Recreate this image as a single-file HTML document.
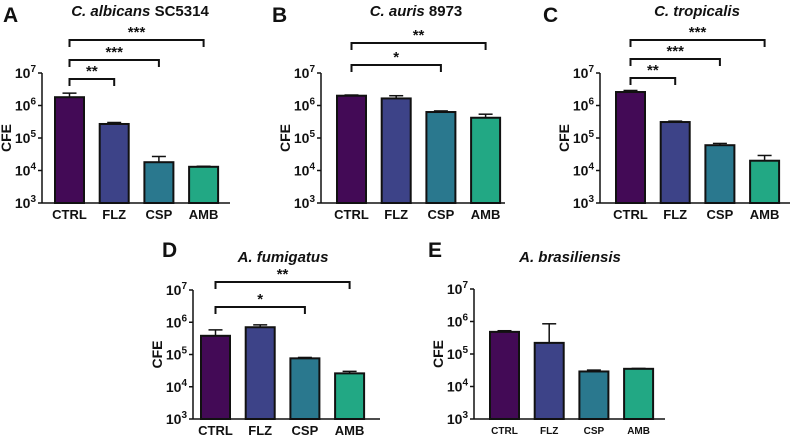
<!DOCTYPE html>
<html><head><meta charset="utf-8"><style>
body{margin:0;background:#fff}
svg text{font-family:"Liberation Sans",Arial,sans-serif;font-weight:bold;fill:#111}
</style></head><body>
<svg id="c" width="800" height="440" viewBox="0 0 800 440" xmlns="http://www.w3.org/2000/svg"></svg>
<script>
const categories=["CTRL","FLZ","CSP","AMB"];
const colors=["#430a56","#3d4388","#2a788e","#22a884"];
const tickExps=[3,4,5,6,7];
const valsA=[1.8e6,2.7e5,1.8e4,1.3e4], errA=[2.4e6,3.0e5,2.7e4,1.35e4];
const valsB=[2.0e6,1.65e6,6.3e5,4.2e5], errB=[2.1e6,2.0e6,6.8e5,5.4e5];
const valsC=[2.6e6,3.1e5,6.0e4,2.0e4], errC=[2.9e6,3.3e5,6.8e4,2.9e4];
const valsD=[3.8e5,7.0e5,7.6e4,2.6e4], errD=[5.8e5,8.3e5,8.1e4,3.0e4];
const valsE=[4.8e5,2.2e5,2.9e4,3.5e4], errE=[5.2e5,8.5e5,3.2e4,3.6e4];
const sigA=[[1,"**"],[2,"***"],[3,"***"]];
const sigB=[[2,"*"],[3,"**"]];
const sigC=[[1,"**"],[2,"***"],[3,"***"]];
const sigD=[[2,"*"],[3,"**"]];
const sigE=[];
const svg=document.getElementById('c');
const NS="http://www.w3.org/2000/svg";
function mk(tag,at,txt){const e=document.createElementNS(NS,tag);for(const k in at)e.setAttribute(k,at[k]);if(txt!=null)e.textContent=txt;svg.appendChild(e);return e;}
const panels=[
 {id:"a",letter:"A",lx:3,ly:22,title:"C. albicans",tsuf:" SC5314",tx:140,ty:16,ax:42,b0:55,y7:73,y3:203,end:230,vals:valsA,err:errA,sig:sigA,sigY:[79,60,40],fs:13},
 {id:"b",letter:"B",lx:272,ly:22,title:"C. auris",tsuf:" 8973",tx:416,ty:16,ax:321,b0:337,y7:73,y3:203,end:505,vals:valsB,err:errB,sig:sigB,sigY:[0,65,43],fs:13},
 {id:"c",letter:"C",lx:543,ly:22,title:"C. tropicalis",tsuf:"",tx:697,ty:16,ax:600,b0:616,y7:73,y3:203,end:790,vals:valsC,err:errC,sig:sigC,sigY:[78,59,40],fs:13},
 {id:"d",letter:"D",lx:162,ly:257,title:"A. fumigatus",tsuf:"",tx:283,ty:262,ax:193,b0:201,y7:290,y3:419,end:380,vals:valsD,err:errD,sig:sigD,sigY:[0,307,282],fs:13},
 {id:"e",letter:"E",lx:428,ly:257,title:"A. brasiliensis",tsuf:"",tx:570,ty:262,ax:474,b0:490,y7:289,y3:419,end:665,vals:valsE,err:errE,sig:sigE,sigY:[],fs:10}
];
panels.forEach(p=>{
 const y=v=>p.y3-(Math.log10(v)-3)*(p.y3-p.y7)/4;
 const bx=i=>p.b0+i*44.7, bw=29;
 let e=mk('text',{x:p.lx,y:p.ly,'font-size':21},p.letter);
 
 e=mk('text',{x:p.tx,y:p.ty,'font-size':15,'text-anchor':'middle'});
 
 const ts=document.createElementNS(NS,'tspan');ts.setAttribute('font-style','italic');ts.textContent=p.title;e.appendChild(ts);
 if(p.tsuf){const t2=document.createElementNS(NS,'tspan');t2.textContent=p.tsuf;e.appendChild(t2);}
 e=mk('line',{x1:p.ax,y1:p.y7,x2:p.ax,y2:p.y3,stroke:'#111','stroke-width':1.5});
 
 e=mk('line',{x1:p.ax,y1:p.y3,x2:p.end,y2:p.y3,stroke:'#111','stroke-width':1.5});
 
 tickExps.forEach(k=>{
  const ty=y(Math.pow(10,k));
  mk('line',{x1:p.ax-4,y1:ty,x2:p.ax,y2:ty,stroke:'#111','stroke-width':1.5});
  const t=mk('text',{x:p.ax-6,y:ty+5,'font-size':14,'text-anchor':'end'});
  
  const a=document.createElementNS(NS,'tspan');a.textContent='10';t.appendChild(a);
  const b=document.createElementNS(NS,'tspan');b.setAttribute('dy','-6');b.setAttribute('font-size','10');b.textContent=k;t.appendChild(b);
 });
 const cy=(p.y7+p.y3)/2;
 e=mk('text',{x:p.ax-31,y:cy,'font-size':14,'text-anchor':'middle',transform:`rotate(-90 ${p.ax-31} ${cy})`},'CFE');
 
 categories.forEach((c,i)=>{
  const x=bx(i),top=y(p.vals[i]),et=y(p.err[i]);
  const g=mk('line',{x1:x+bw/2,y1:et,x2:x+bw/2,y2:top,stroke:'#111','stroke-width':1.5});
  
  mk('line',{x1:x+bw/2-7,y1:et,x2:x+bw/2+7,y2:et,stroke:'#111','stroke-width':1.5});
  const r=mk('rect',{x:x,y:top,width:bw,height:p.y3-top,fill:colors[i],stroke:'#111','stroke-width':2});
  
  const l=mk('text',{x:x+bw/2,y:p.y3+(p.fs>11?16:15),'font-size':p.fs,'text-anchor':'middle'},c);
  
 });
 p.sig.forEach(([j,s])=>{
  const ly=p.sigY[j-1],x1=bx(0)+bw/2,x2=bx(j)+bw/2;
  const pl=mk('polyline',{points:`${x1},${ly+7} ${x1},${ly} ${x2},${ly} ${x2},${ly+7}`,fill:'none',stroke:'#111','stroke-width':2});
  
  const st=mk('text',{x:(x1+x2)/2,y:ly-3,'font-size':15,'text-anchor':'middle'},s);
  
 });
});
</script>
</body></html>
